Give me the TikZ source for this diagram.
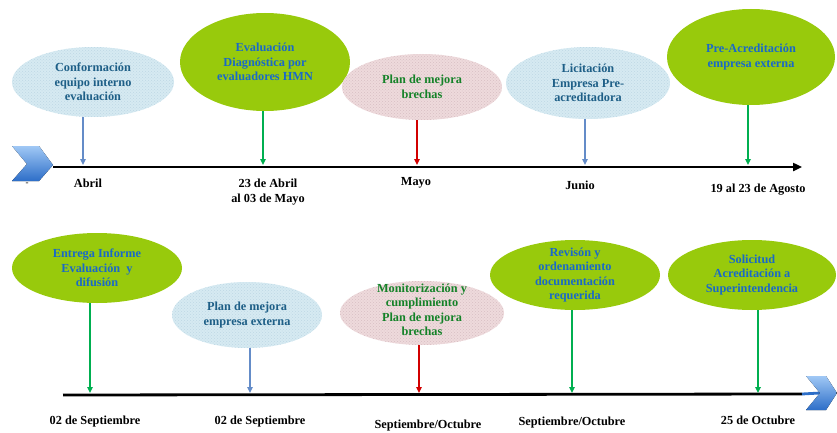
\documentclass[tikz,border=0pt]{standalone}
\usepackage{fontspec}
\setmainfont{Liberation Serif}
\usetikzlibrary{shapes.geometric,arrows.meta,patterns}
\definecolor{greenfill}{RGB}{152,202,12}
\definecolor{bluefill}{RGB}{214,234,242}
\definecolor{bluedots}{RGB}{190,215,228}
\definecolor{pinkfill}{RGB}{238,218,220}
\definecolor{pinkdots}{RGB}{215,190,195}
\definecolor{txtblue}{RGB}{25,105,200}
\definecolor{txtteal}{RGB}{30,95,135}
\definecolor{txtgreen}{RGB}{20,130,40}
\definecolor{arrblue}{RGB}{100,140,200}
\definecolor{arrgreen}{RGB}{0,175,80}
\definecolor{arrred}{RGB}{210,0,0}
\definecolor{chevtop}{RGB}{160,200,245}
\definecolor{chevbot}{RGB}{45,110,200}
\begin{document}
\begin{tikzpicture}[x=1pt,y=-1pt,
  every node/.style={font=\fontsize{12.3}{14.5}\selectfont\bfseries},
  ell/.style={ellipse, inner sep=0pt, draw=none},
  greenell/.style={ell, fill=greenfill},
  blueell/.style={ell, preaction={fill=bluefill}, pattern=crosshatch dots, pattern color=bluedots},
  pinkell/.style={ell, preaction={fill=pinkfill}, pattern=crosshatch dots, pattern color=pinkdots},
  txt/.style={align=center, inner sep=0pt},
  lbl/.style={align=center, inner sep=0pt, text=black},
  arr/.style={-{Triangle[length=6pt,width=5.5pt]}, line width=1.5pt},
  timeline/.style={line width=2.8pt, black},
  chev/.style={top color=chevtop, bottom color=chevbot, draw=none}
]
\useasboundingbox (0,0) rectangle (837,433);

% ---------- top row ----------
\fill[chev] (12,146) -- (39,146) -- (53,165) -- (39,181) -- (12,181) -- (27,164) -- cycle;
\coordinate (s1) at (53,167);
\coordinate (f1) at (802,167);
\draw[timeline, -{Triangle[length=9pt,width=8pt]}] (s1) -- (f1);
\node[lbl, font=\fontsize{9}{9}\selectfont] (dash) at (27,184) {-};

\node[blueell, minimum width=162pt, minimum height=70pt] (e1) at (93,82) {};
\node[txt, text=txtteal] (e1t) at (e1) {Conformación\\equipo interno\\evaluación};
\node[greenell, minimum width=170pt, minimum height=98pt] (e2) at (265,62) {};
\node[txt, text=txtblue] (e2t) at (e2) {Evaluación\\Diagnóstica por\\evaluadores HMN};
\node[pinkell, minimum width=160pt, minimum height=66pt] (e3) at (422,87) {};
\node[txt, text=txtgreen] (e3t) at (e3) {Plan de mejora\\brechas};
\node[blueell, minimum width=164pt, minimum height=72pt] (e4) at (588,83) {};
\node[txt, text=txtteal] (e4t) at (e4) {Licitación\\Empresa Pre-\\acreditadora};
\node[greenell, minimum width=168pt, minimum height=96pt] (e5) at (751,57) {};
\node[txt, text=txtblue] (e5t) at (751,57) {Pre-Acreditación\\empresa externa};

\coordinate (t1) at (83,165);
\coordinate (t2) at (263,165);
\coordinate (t3) at (417,165);
\coordinate (t4) at (585,165);
\coordinate (t5) at (748,165);
\draw[arr, arrblue] (t1 |- e1.south) -- (t1);
\draw[arr, arrgreen] (t2 |- e2.south) -- (t2);
\draw[arr, arrred] (t3 |- e3.south) -- (t3);
\draw[arr, arrblue] (t4 |- e4.south) -- (t4);
\draw[arr, arrgreen] (t5 |- e5.south) -- (t5);

\node[lbl] (l1) at (88,183) {Abril};
\node[lbl] (l2) at (268,192) {23 de Abril\\al 03 de Mayo};
\node[lbl] (l3) at (416,183) {Mayo};
\node[lbl] (l4) at (580,185) {Junio};
\node[lbl] (l5) at (758,190) {19 al 23 de Agosto};

% ---------- bottom row ----------
\coordinate (s2) at (63,395);
\coordinate (f2) at (802,394);
\draw[timeline] (s2) -- (f2);
\draw[line width=2.8pt, chevbot] (f2) -- (820,393);
\fill[chev] (806,376) -- (826,376) -- (837,393) -- (826,410) -- (806,410) -- (820,393) -- cycle;

\node[greenell, minimum width=170pt, minimum height=70pt] (b1) at (97,268) {};
\node[txt, text=txtblue] (b1t) at (b1) {Entrega Informe\\Evaluación\enspace y\\difusión};
\node[blueell, minimum width=150pt, minimum height=66pt] (b2) at (247,315) {};
\node[txt, text=txtteal] (b2t) at (b2) {Plan de mejora\\empresa externa};
\node[pinkell, minimum width=164pt, minimum height=64pt] (b3) at (422,313) {};
\node[txt, text=txtgreen] (b3t) at (422,310) {Monitorización y\\cumplimiento\\Plan de mejora\\brechas};
\node[greenell, minimum width=170pt, minimum height=70pt] (b4) at (575,275) {};
\node[txt, text=txtblue] (b4t) at (b4) {Revisón y\\ordenamiento\\documentación\\requerida};
\node[greenell, minimum width=168pt, minimum height=70pt] (b5) at (752,275) {};
\node[txt, text=txtblue] (b5t) at (b5) {Solicitud\\Acreditación a\\Superintendencia};

\coordinate (u1) at (90,393);
\coordinate (u2) at (250,393);
\coordinate (u3) at (419,393);
\coordinate (u4) at (572,393);
\coordinate (u5) at (758,393);
\draw[arr, arrgreen] (u1 |- b1.south) -- (u1);
\draw[arr, arrblue] (u2 |- b2.south) -- (u2);
\draw[arr, arrred] (u3 |- b3.south) -- (u3);
\draw[arr, arrgreen] (u4 |- b4.south) -- (u4);
\draw[arr, arrgreen] (u5 |- b5.south) -- (u5);

\node[lbl] (m1) at (95,422) {02 de Septiembre};
\node[lbl] (m2) at (260,422) {02 de Septiembre};
\node[lbl] (m3) at (428,426) {Septiembre/Octubre};
\node[lbl] (m4) at (572,423) {Septiembre/Octubre};
\node[lbl] (m5) at (758,420) {25 de Octubre};
\end{tikzpicture}
\end{document}
